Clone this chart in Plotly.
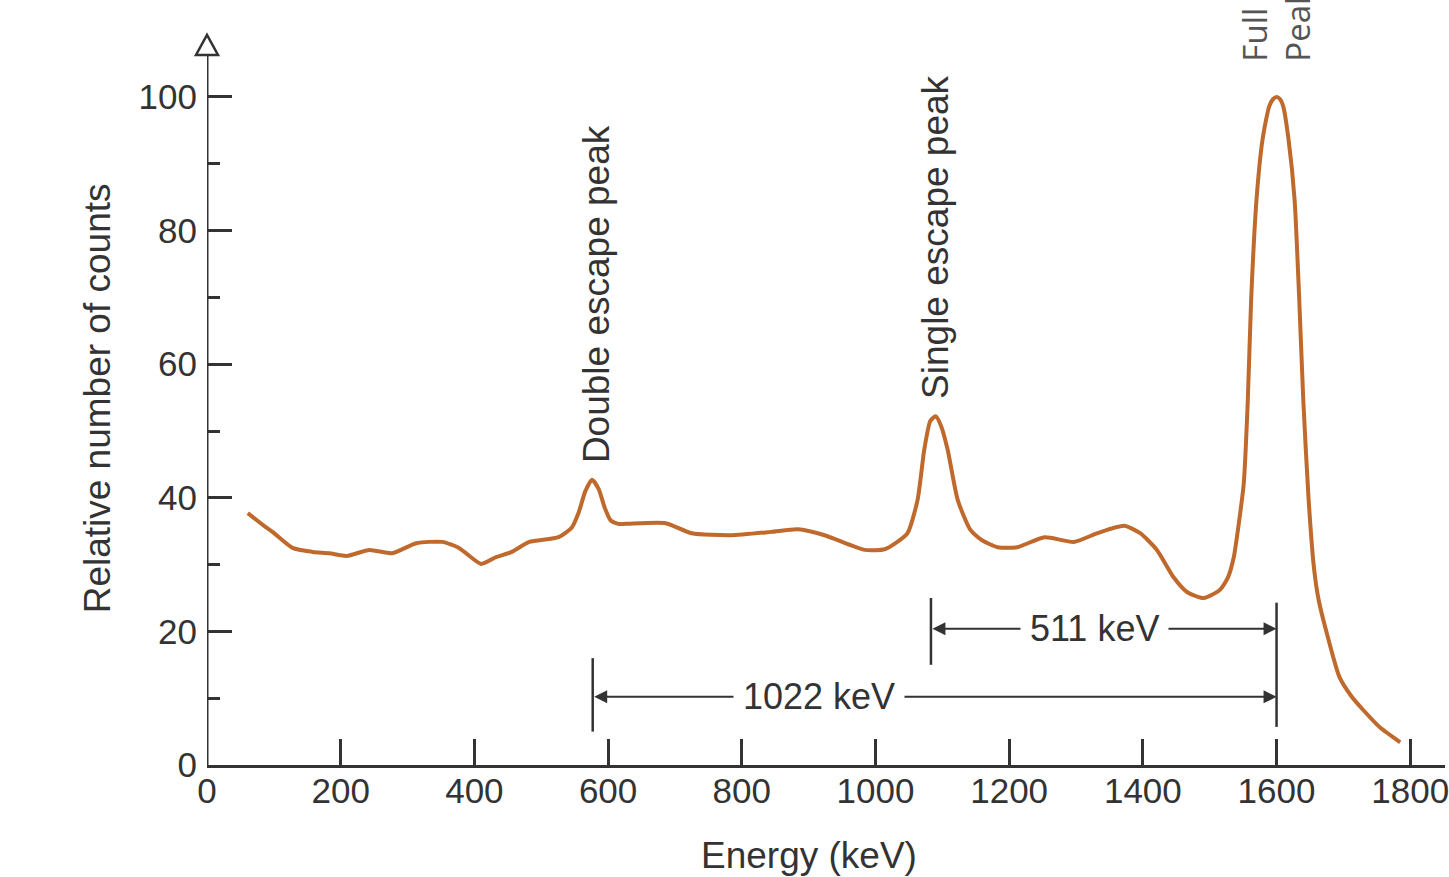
import plotly.graph_objects as go

# ---------------- data ----------------
energy_kev = [61, 84, 98, 128, 158, 183, 209, 243, 277, 313, 352, 377, 410, 432, 456, 482,
              526, 546, 556, 566, 576, 586, 595, 604, 615, 626, 686, 725, 784, 844, 884, 924,
              984, 1014, 1030, 1048, 1063, 1073, 1082, 1090, 1098, 1108, 1123, 1142, 1160,
              1183, 1212, 1253, 1297, 1332, 1372, 1396, 1421, 1446, 1466, 1491, 1515, 1527,
              1536, 1544, 1551, 1557, 1562, 1570, 1579, 1589, 1595, 1600, 1605, 1610, 1618,
              1627, 1634, 1640, 1648, 1656, 1663, 1675, 1694, 1712, 1730, 1755, 1785]
rel_counts = [37.7, 35.9, 34.9, 32.5, 31.9, 31.7, 31.3, 32.2, 31.7, 33.2, 33.4, 32.5, 30.1, 31.1, 31.9, 33.4,
              34.1, 35.6, 37.8, 41.0, 42.7, 41.3, 38.5, 36.6, 36.1, 36.1, 36.2, 34.7, 34.4, 34.9, 35.3, 34.4,
              32.2, 32.3, 33.2, 34.7, 39.7, 47.2, 51.5, 52.2, 50.8, 47.2, 39.7, 35.2, 33.6,
              32.6, 32.6, 34.1, 33.4, 34.7, 35.8, 34.7, 32.2, 28.1, 25.9, 25.0, 26.2, 28.0,
              31.1, 36.5, 42.2, 54.6, 69.6, 84.6, 93.6, 98.6, 99.7, 100.0, 99.7, 98.6, 93.6,
              84.6, 69.6, 54.6, 39.7, 29.5, 24.7, 19.8, 13.2, 10.3, 8.2, 5.6, 3.4]

x_ticks = [0, 200, 400, 600, 800, 1000, 1200, 1400, 1600, 1800]
y_ticks = [0, 20, 40, 60, 80, 100]
y_minor = [10, 30, 50, 70, 90]

peak_labels = ["Double escape peak", "Single escape peak"]
peak_label_x = [582, 1090]
peak_label_y = [70.5, 79.0]

full_peak_text = "Full<br>Peak"

# dimension markers: (start energy, end energy, label)
dim_511 = (1083, 1600, "511 keV")
dim_1022 = (577, 1600, "1022 keV")

FONT = "Liberation Sans, Arial, Helvetica, sans-serif"
INK = "#333333"
CURVE = "#c0692d"

Y_MAX = 114.52
Y_AXIS_TOP = 106.3

fig = go.Figure()

fig.add_trace(go.Scatter(
    x=energy_kev, y=rel_counts, mode="lines",
    line=dict(color=CURVE, width=4, shape="spline", smoothing=0.6),
    hoverinfo="skip", showlegend=False))

shapes = [
    # y-axis line up to the arrow
    dict(type="line", xref="x", yref="y", x0=0, x1=0, y0=0, y1=Y_AXIS_TOP,
         line=dict(color=INK, width=3), layer="below"),
    # open arrowhead on top of the y axis (pixel-sized, paper-referenced so not clipped)
    dict(type="path", xref="paper", yref="paper", xsizemode="pixel", ysizemode="pixel",
         xanchor=0, yanchor=Y_AXIS_TOP / Y_MAX, path="M -11,0 L 11,0 L 0,20 Z",
         fillcolor="white", line=dict(color=INK, width=2.5)),
    # vertical markers
    dict(type="line", xref="x", yref="y", x0=1083, x1=1083, y0=15.0, y1=25.0,
         line=dict(color=INK, width=2.5)),
    dict(type="line", xref="x", yref="y", x0=1600, x1=1600, y0=5.7, y1=24.3,
         line=dict(color=INK, width=2.5)),
    dict(type="line", xref="x", yref="y", x0=577, x1=577, y0=5.0, y1=16.0,
         line=dict(color=INK, width=2.5)),
]

annotations = []
for (x0, x1, lab), yv, xc in [(dim_511, 20.4, 1327), (dim_1022, 10.2, 916)]:
    annotations.append(dict(
        x=x1, y=yv, ax=x0, ay=yv, xref="x", yref="y", axref="x", ayref="y",
        text="", showarrow=True, arrowside="end+start", arrowhead=2, startarrowhead=2,
        arrowsize=1.3, startarrowsize=1.3, arrowwidth=2, arrowcolor=INK))
    annotations.append(dict(
        x=xc, y=yv, xref="x", yref="y", text=lab, showarrow=False,
        bgcolor="white", borderpad=9, xanchor="center", yanchor="middle",
        font=dict(family=FONT, size=36, color=INK)))

for lab, xv, yv in zip(peak_labels, peak_label_x, peak_label_y):
    annotations.append(dict(
        x=xv, y=yv, xref="x", yref="y", text=lab, showarrow=False, textangle=-90,
        xanchor="center", yanchor="middle",
        font=dict(family=FONT, size=37, color=INK)))

annotations.append(dict(
    x=1600, y=105.0, xref="x", yref="y", text=full_peak_text, showarrow=False,
    textangle=-90, xanchor="center", yanchor="bottom", align="left",
    font=dict(family="Open Sans, Noto Sans, sans-serif", size=33, color="#555555")))

# axis titles (paper coordinates so they can sit outside the plot area)
annotations.append(dict(
    x=-0.0886, y=0.4797, xref="paper", yref="paper", text="Relative number of counts",
    showarrow=False, textangle=-90, xanchor="center", yanchor="middle",
    font=dict(family=FONT, size=37, color=INK)))
annotations.append(dict(
    x=0.4863, y=-0.0889, xref="paper", yref="paper", text="Energy (keV)",
    showarrow=False, xanchor="center", yanchor="top",
    font=dict(family=FONT, size=37, color=INK)))

fig.update_layout(
    width=1449, height=877,
    margin=dict(l=207, r=0, t=0, b=112, pad=0),
    paper_bgcolor="white", plot_bgcolor="white",
    showlegend=False,
    shapes=shapes, annotations=annotations,
    xaxis=dict(range=[0, 1852], tickvals=x_ticks, ticks="inside", ticklen=26,
               tickwidth=2.5, tickcolor=INK, showline=True, linewidth=3, linecolor=INK,
               showgrid=False, zeroline=False, ticklabelstandoff=-7,
               ticklabeloverflow="allow",
               tickfont=dict(family=FONT, size=35, color=INK)),
    yaxis=dict(range=[0, Y_MAX], tickvals=y_ticks, ticks="inside", ticklen=25,
               tickwidth=2.5, tickcolor=INK, showline=False, showgrid=False,
               zeroline=False, ticklabelstandoff=9, ticklabeloverflow="allow",
               minor=dict(tickvals=y_minor, ticks="inside", ticklen=13,
                          tickwidth=2.5, tickcolor=INK, showgrid=False),
               tickfont=dict(family=FONT, size=35, color=INK)),
)

fig.write_html("out.html")
